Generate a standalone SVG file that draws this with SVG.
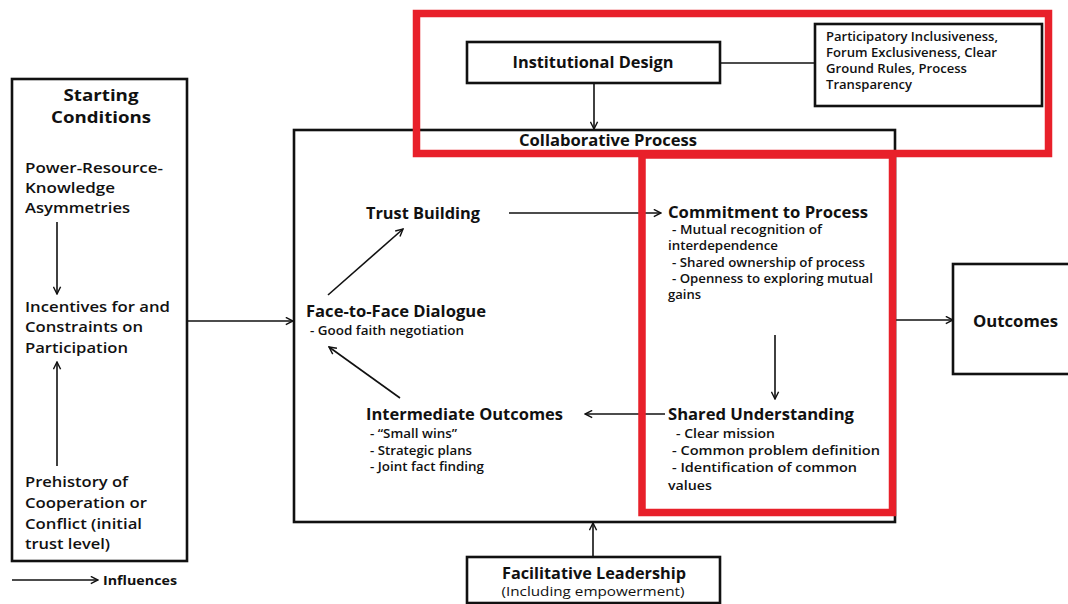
<svg xmlns="http://www.w3.org/2000/svg" width="1068" height="604" viewBox="0 0 1068 604">
<defs>
<marker id="ah" viewBox="0 0 10 10" refX="9" refY="5" markerWidth="9" markerHeight="9" markerUnits="userSpaceOnUse" orient="auto">
<path d="M1,1 L9,5 L1,9" fill="none" stroke="#111" stroke-width="1.6"/>
</marker>
</defs>
<style>
.box{fill:#fff;stroke:#111;stroke-width:2.6}
.red{fill:none;stroke:#e8202a;stroke-width:7.5}
.c{stroke:#111;stroke-width:1.6;fill:none}
.ca{stroke:#111;stroke-width:1.6;fill:none;marker-end:url(#ah)}
text{font-family:"Open Sans","Liberation Sans",sans-serif;fill:#111}
.h{font-weight:700;font-size:16px}
.m{font-weight:600;font-size:15px}
.s{font-weight:600;font-size:12px}
.mid{text-anchor:middle}
</style>
<rect width="1068" height="604" fill="#fff"/>
<g id="starting-conditions">
<rect class="box" x="12" y="79" width="175" height="482"/>
<text class="h mid" x="101" y="101" textLength="75" lengthAdjust="spacingAndGlyphs">Starting</text>
<text class="h mid" x="101" y="123" textLength="100" lengthAdjust="spacingAndGlyphs">Conditions</text>
<text class="m" x="25" y="173" textLength="138" lengthAdjust="spacingAndGlyphs">Power-Resource-</text>
<text class="m" x="25" y="193" textLength="90" lengthAdjust="spacingAndGlyphs">Knowledge</text>
<text class="m" x="25" y="213" textLength="105" lengthAdjust="spacingAndGlyphs">Asymmetries</text>
<text class="m" x="25" y="312" textLength="145" lengthAdjust="spacingAndGlyphs">Incentives for and</text>
<text class="m" x="25" y="332" textLength="118" lengthAdjust="spacingAndGlyphs">Constraints on</text>
<text class="m" x="25" y="353" textLength="103" lengthAdjust="spacingAndGlyphs">Participation</text>
<text class="m" x="25" y="487" textLength="103" lengthAdjust="spacingAndGlyphs">Prehistory of</text>
<text class="m" x="25" y="508" textLength="122" lengthAdjust="spacingAndGlyphs">Cooperation or</text>
<text class="m" x="25" y="529" textLength="117" lengthAdjust="spacingAndGlyphs">Conflict (initial</text>
<text class="m" x="25" y="549" textLength="85" lengthAdjust="spacingAndGlyphs">trust level)</text>
</g>
<g id="legend">
<text class="s" x="103" y="585" textLength="74" lengthAdjust="spacingAndGlyphs" style="font-weight:700">Influences</text>
</g>
<g id="institutional-design">
<rect class="box" x="467" y="42" width="253" height="41"/>
<text class="h mid" x="593" y="68" textLength="161" lengthAdjust="spacingAndGlyphs">Institutional Design</text>
</g>
<g id="design-attributes">
<rect class="box" x="815" y="24" width="227" height="82"/>
<text class="s" x="826" y="41" textLength="172" lengthAdjust="spacingAndGlyphs">Participatory Inclusiveness,</text>
<text class="s" x="826" y="57" textLength="171" lengthAdjust="spacingAndGlyphs">Forum Exclusiveness, Clear</text>
<text class="s" x="826" y="73" textLength="141" lengthAdjust="spacingAndGlyphs">Ground Rules, Process</text>
<text class="s" x="826" y="89" textLength="86" lengthAdjust="spacingAndGlyphs">Transparency</text>
</g>
<g id="collaborative-process">
<rect class="box" x="294" y="130" width="601" height="392"/>
<text class="h mid" x="608" y="146" textLength="178" lengthAdjust="spacingAndGlyphs">Collaborative Process</text>
</g>
<g id="trust-building">
<text class="h" x="366" y="219" textLength="114" lengthAdjust="spacingAndGlyphs">Trust Building</text>
</g>
<g id="face-to-face">
<text class="h" x="306" y="317" textLength="180" lengthAdjust="spacingAndGlyphs">Face-to-Face Dialogue</text>
<text class="s" x="310" y="335" textLength="154" lengthAdjust="spacingAndGlyphs">- Good faith negotiation</text>
</g>
<g id="intermediate-outcomes">
<text class="h" x="366" y="420" textLength="197" lengthAdjust="spacingAndGlyphs">Intermediate Outcomes</text>
<text class="s" x="370" y="438" textLength="87" lengthAdjust="spacingAndGlyphs">- “Small wins”</text>
<text class="s" x="370" y="455" textLength="102" lengthAdjust="spacingAndGlyphs">- Strategic plans</text>
<text class="s" x="370" y="471" textLength="114" lengthAdjust="spacingAndGlyphs">- Joint fact finding</text>
</g>
<g id="commitment">
<text class="h" x="668" y="218" textLength="200" lengthAdjust="spacingAndGlyphs">Commitment to Process</text>
<text class="s" x="672" y="234" textLength="150" lengthAdjust="spacingAndGlyphs">- Mutual recognition of</text>
<text class="s" x="668" y="250" textLength="110" lengthAdjust="spacingAndGlyphs">interdependence</text>
<text class="s" x="672" y="267" textLength="193" lengthAdjust="spacingAndGlyphs">- Shared ownership of process</text>
<text class="s" x="672" y="283" textLength="201" lengthAdjust="spacingAndGlyphs">- Openness to exploring mutual</text>
<text class="s" x="668" y="299" textLength="33" lengthAdjust="spacingAndGlyphs">gains</text>
</g>
<g id="shared-understanding">
<text class="h" x="668" y="420" textLength="186" lengthAdjust="spacingAndGlyphs">Shared Understanding</text>
<text class="s" x="676" y="438" textLength="99" lengthAdjust="spacingAndGlyphs">- Clear mission</text>
<text class="s" x="672" y="455" textLength="208" lengthAdjust="spacingAndGlyphs">- Common problem definition</text>
<text class="s" x="672" y="472" textLength="185" lengthAdjust="spacingAndGlyphs">- Identification of common</text>
<text class="s" x="668" y="490" textLength="44" lengthAdjust="spacingAndGlyphs">values</text>
</g>
<g id="outcomes">
<rect class="box" x="953" y="264" width="120" height="110"/>
<text class="h" x="973" y="327" textLength="85" lengthAdjust="spacingAndGlyphs">Outcomes</text>
</g>
<g id="facilitative-leadership">
<rect class="box" x="467" y="557" width="253" height="46"/>
<text class="h mid" x="594" y="579" textLength="184" lengthAdjust="spacingAndGlyphs">Facilitative Leadership</text>
<text class="s mid" x="593" y="596" textLength="183" lengthAdjust="spacingAndGlyphs" style="font-weight:400;font-size:13px">(Including empowerment)</text>
</g>
<g id="connectors">
<line class="ca" x1="57" y1="222" x2="57" y2="294"/>
<line class="ca" x1="57" y1="466" x2="57" y2="362"/>
<line class="ca" x1="187" y1="321" x2="293" y2="321"/>
<line class="c" x1="720" y1="63" x2="815" y2="63"/>
<line class="ca" x1="594" y1="84" x2="594" y2="129"/>
<line class="ca" x1="509" y1="213" x2="661" y2="213"/>
<line class="ca" x1="328" y1="295" x2="403" y2="229"/>
<line class="ca" x1="400" y1="398" x2="329" y2="347"/>
<line class="ca" x1="665" y1="414" x2="585" y2="414"/>
<line class="ca" x1="775" y1="335" x2="775" y2="399"/>
<line class="ca" x1="895" y1="320" x2="953" y2="320"/>
<line class="ca" x1="593" y1="557" x2="593" y2="523"/>
<line class="ca" x1="12" y1="580" x2="98" y2="580"/>
</g>
<g id="highlights">
<rect class="red" x="416.5" y="13.5" width="632" height="140"/>
<rect class="red" x="642" y="155" width="250.5" height="357.5"/>
</g>
</svg>
